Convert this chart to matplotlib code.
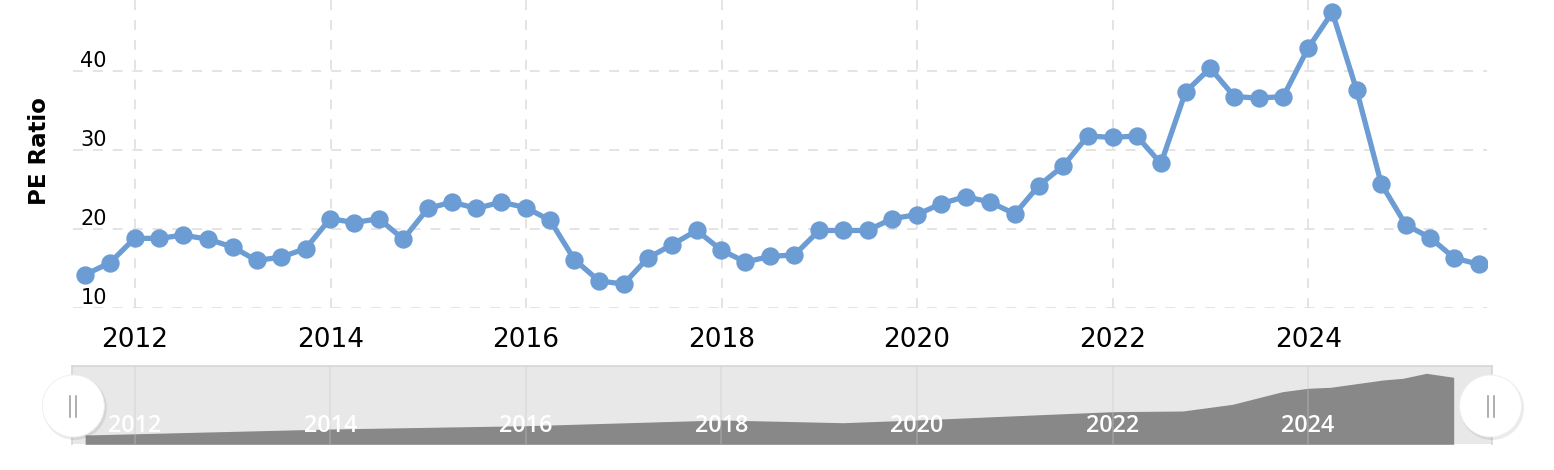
import matplotlib
matplotlib.use("Agg")
import matplotlib.pyplot as plt
import pandas as pd
from matplotlib.patches import Ellipse


# quarterly PE ratio, quarter ends 2011-06-30 .. 2025-09-30
quarter_end = pd.date_range("2011-06-30", periods=58, freq="QE")
pe_ratio = [
    14.2, 15.7, 18.8,
    18.8, 19.2, 18.7, 17.7,
    16.0, 16.4, 17.5, 21.3,
    20.8, 21.3, 18.7, 22.6,
    23.4, 22.6, 23.4, 22.7,
    21.1, 16.1, 13.4, 13.0,
    16.3, 18.0, 19.8, 17.3,
    15.8, 16.5, 16.7, 19.8,
    19.8, 19.8, 21.3, 21.8,
    23.2, 24.1, 23.4, 21.9,
    25.5, 28.0, 31.8, 31.6,
    31.8, 28.3, 37.4, 40.4,
    36.8, 36.6, 36.8, 42.9,
    47.5, 37.6, 25.7, 20.5,
    18.9, 16.3, 15.5,
]

year_ticks = [2012, 2014, 2016, 2018, 2020, 2022, 2024]
pe_ticks = [10, 20, 30, 40]

# navigator series (overview of the full history)
nav_dates = pd.to_datetime([
    "2011-06-30", "2013-12-31", "2015-12-31", "2017-12-31", "2019-03-31",
    "2019-12-31", "2021-05-10", "2021-12-31", "2022-09-20", "2023-03-25",
    "2023-09-27", "2023-12-31", "2024-03-25", "2024-10-07", "2024-12-20",
    "2025-03-18", "2025-06-28",
])
nav_values = [9.3, 15.3, 18.6, 24.3, 21.6, 24.3, 30.0, 32.6, 33.3, 40.0,
              52.6, 56.0, 57.0, 64.3, 66.0, 71.0, 67.0]

W, H = 1554, 470
LINE_COLOR = "#6c9cd4"

fig = plt.figure(figsize=(W / 100, H / 100), dpi=100)

# main chart
ax = fig.add_axes([72.7 / W, 1 - 308 / H, (1486.5 - 72.7) / W, 308 / H])
ax.plot(quarter_end, pe_ratio, color=LINE_COLOR, linewidth=3.8,
        marker="o", markersize=12.2, zorder=3)
ax.set_xlim(pd.Timestamp("2011-05-14"), pd.Timestamp("2025-10-28"))
ax.set_ylim(9.96, 49.05)

ax.set_xticks([pd.Timestamp(f"{y}-01-01") for y in year_ticks])
ax.set_xticklabels([str(y) for y in year_ticks])
ax.set_yticks(pe_ticks)
ax.set_yticklabels([str(v) for v in pe_ticks])
for lbl in ax.get_yticklabels():
    lbl.set_verticalalignment("bottom")

ax.tick_params(axis="both", length=0)
ax.tick_params(axis="y", pad=-24.5, labelsize=15)
ax.tick_params(axis="x", pad=14, labelsize=19)
ax.grid(True, color="#dddddd", linewidth=1.1, linestyle=(0, (6.5, 6.5)))
ax.set_axisbelow(True)
for s in ax.spines.values():
    s.set_visible(False)

fig.text(39.7 / W, 1 - 151 / H, "PE Ratio", rotation=90, ha="center",
         va="center", fontsize=16.5, fontweight="bold")

# navigator
nav = fig.add_axes([72.3 / W, 1 - 444.3 / H, (1491.7 - 72.3) / W, 78.6 / H])
nav.set_facecolor("#e8e8e8")
nav.fill_between(nav_dates, nav_values, 0, color="#888888", linewidth=0)
nav.set_xlim(pd.Timestamp("2011-05-13"), pd.Timestamp("2025-11-17"))
nav.set_ylim(0, 78.6)
nav.set_xticks([])
nav.set_yticks([])
for name, s in nav.spines.items():
    if name == "bottom":
        s.set_visible(False)
    else:
        s.set_color("#d6d6d6")
        s.set_linewidth(1.2)
for y in year_ticks:
    d = pd.Timestamp(f"{y}-01-01")
    nav.axvline(d, color="#c8c8c8", alpha=0.35, linewidth=1.2)
    nav.text(d, 0.235, str(y), transform=nav.get_xaxis_transform(),
             ha="center", va="center", color="white", fontsize=16.8,
             family="Open Sans", fontweight="semibold")

# navigator handles, drawn in pixel space on top of everything
over = fig.add_axes([0, 0, 1, 1], zorder=10)
over.set_xlim(0, W)
over.set_ylim(H, 0)
over.axis("off")
for cx in (73.3, 1490.5):
    over.add_patch(Ellipse((cx + 1.5, 408), 64, 64, color="#000000",
                           alpha=0.08, linewidth=0))
    over.add_patch(Ellipse((cx, 406), 62, 62, facecolor="white",
                           edgecolor="#eeeeee", linewidth=0.6))
    for dx in (-3, 3):
        over.plot([cx + dx, cx + dx], [396, 417], color="#999999",
                  linewidth=1.1)

fig.savefig("out.png", dpi=100)
